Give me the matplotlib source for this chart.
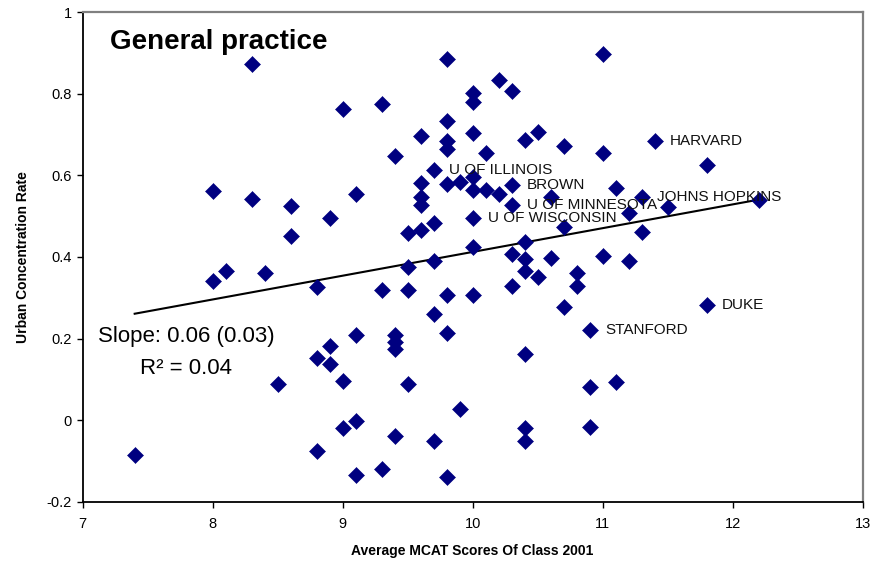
import matplotlib
matplotlib.use("Agg")
import matplotlib.pyplot as plt
import numpy as np

plt.rcParams["font.family"] = ["Liberation Sans", "DejaVu Sans"]

# average MCAT score of the 2001 class, one entry per school
mcat = [
    7.4,
    8.0, 8.0,
    8.1,
    8.3, 8.3,
    8.4,
    8.5,
    8.6, 8.6,
    8.8, 8.8, 8.8,
    8.9, 8.9, 8.9,
    9.0, 9.0, 9.0,
    9.1, 9.1, 9.1, 9.1,
    9.3, 9.3, 9.3,
    9.4, 9.4, 9.4, 9.4, 9.4,
    9.5, 9.5, 9.5, 9.5,
    9.6, 9.6, 9.6, 9.6, 9.6,
    9.7, 9.7, 9.7, 9.7, 9.7,
    9.8, 9.8, 9.8, 9.8, 9.8, 9.8, 9.8, 9.8,
    9.9, 9.9,
    10.0, 10.0, 10.0, 10.0, 10.0, 10.0, 10.0, 10.0,
    10.1, 10.1,
    10.2, 10.2,
    10.3, 10.3, 10.3, 10.3, 10.3,
    10.4, 10.4, 10.4, 10.4, 10.4, 10.4, 10.4,
    10.5, 10.5,
    10.6, 10.6,
    10.7, 10.7, 10.7,
    10.8, 10.8,
    10.9, 10.9, 10.9,
    11.0, 11.0, 11.0,
    11.1, 11.1,
    11.2, 11.2,
    11.3, 11.3,
    11.4,
    11.5,
    11.8, 11.8,
    12.2,
]

# urban concentration rate of graduates in general practice
urban_rate = [
    -0.084,
    0.562, 0.340,
    0.366,
    0.873, 0.542,
    0.362,
    0.088,
    0.526, 0.452,
    0.327, 0.153, -0.074,
    0.495, 0.182, 0.138,
    0.762, 0.096, -0.020,
    0.554, 0.208, -0.001, -0.134,
    0.774, 0.319, -0.120,
    0.647, 0.208, 0.191, 0.175, -0.038,
    0.458, 0.376, 0.319, 0.089,
    0.697, 0.582, 0.546, 0.527, 0.466,
    0.613, 0.484, 0.391, 0.260, -0.051,
    0.884, 0.734, 0.684, 0.664, 0.578, 0.306, 0.215, -0.140,
    0.584, 0.028,
    0.801, 0.780, 0.704, 0.597, 0.564, 0.495, 0.425, 0.308,
    0.654, 0.564,
    0.833, 0.554,
    0.807, 0.576, 0.527, 0.407, 0.330,
    0.686, 0.436, 0.394, 0.366, 0.163, -0.018, -0.051,
    0.707, 0.350,
    0.546, 0.397,
    0.673, 0.474, 0.277,
    0.361, 0.330,
    0.221, 0.082, -0.016,
    0.897, 0.654, 0.402,
    0.569, 0.095,
    0.508, 0.391,
    0.546, 0.462,
    0.684,
    0.522,
    0.626, 0.282,
    0.540,
]

# schools that get a name next to their point
school_names = ["HARVARD", "U OF ILLINOIS", "BROWN", "U OF MINNESOTA",
                "U OF WISCONSIN", "JOHNS HOPKINS", "DUKE", "STANFORD"]
school_mcat = [11.4, 9.7, 10.3, 10.3, 10.0, 11.3, 11.8, 10.9]
school_rate = [0.684, 0.613, 0.576, 0.527, 0.495, 0.546, 0.282, 0.221]

slope_text = "Slope: 0.06 (0.03)"
r2_text = "R\u00b2 = 0.04"

x_ticks = [7, 8, 9, 10, 11, 12, 13]
y_ticks = [-0.2, 0, 0.2, 0.4, 0.6, 0.8, 1]
y_tick_labels = ["-0.2", "0", "0.2", "0.4", "0.6", "0.8", "1"]

fig = plt.figure(figsize=(8.74, 5.72), dpi=100)
ax = fig.add_axes([0.0946, 0.1224, 0.8924, 0.8566])

ax.plot(mcat, urban_rate, linestyle="none", marker="D", markersize=7.8,
        color="#000080", markeredgecolor="#000080", markeredgewidth=0.4,
        zorder=3)

# least squares trend line over the range of the data
fit = np.polyfit(mcat, urban_rate, 1)
xs = np.array([min(mcat), max(mcat)])
ax.plot(xs, np.polyval(fit, xs), color="black", linewidth=1.5, zorder=2)

for name, x, y in zip(school_names, school_mcat, school_rate):
    ax.annotate(name, (x, y), xytext=(11, 0), textcoords="offset points",
                va="center", ha="left", fontsize=11, color="#111111")

ax.text(0.035, 0.939, "General practice", transform=ax.transAxes,
        fontsize=20, fontweight="bold", va="center", ha="left")
ax.text(0.1324, 0.337, slope_text, transform=ax.transAxes,
        fontsize=16, va="center", ha="center")
ax.text(0.1324, 0.273, r2_text, transform=ax.transAxes,
        fontsize=16, va="center", ha="center")

ax.set_xlim(7, 13)
ax.set_ylim(-0.2, 1)
ax.set_xticks(x_ticks)
ax.set_yticks(y_ticks)
ax.set_yticklabels(y_tick_labels)
ax.tick_params(direction="out", length=4, width=1, colors="black",
               labelsize=10.5)
ax.tick_params(axis="x", pad=7)
ax.tick_params(axis="y", pad=4)

ax.set_xlabel("Average MCAT Scores Of Class 2001", fontsize=10,
              fontweight="bold", labelpad=9)
ax.set_ylabel("Urban Concentration Rate", fontsize=10,
              fontweight="bold", labelpad=12)

for side in ["left", "bottom"]:
    ax.spines[side].set_color("black")
    ax.spines[side].set_linewidth(1.3)
for side in ["top", "right"]:
    ax.spines[side].set_color("#808080")
    ax.spines[side].set_linewidth(1.6)

fig.savefig("out.png", dpi=100)
